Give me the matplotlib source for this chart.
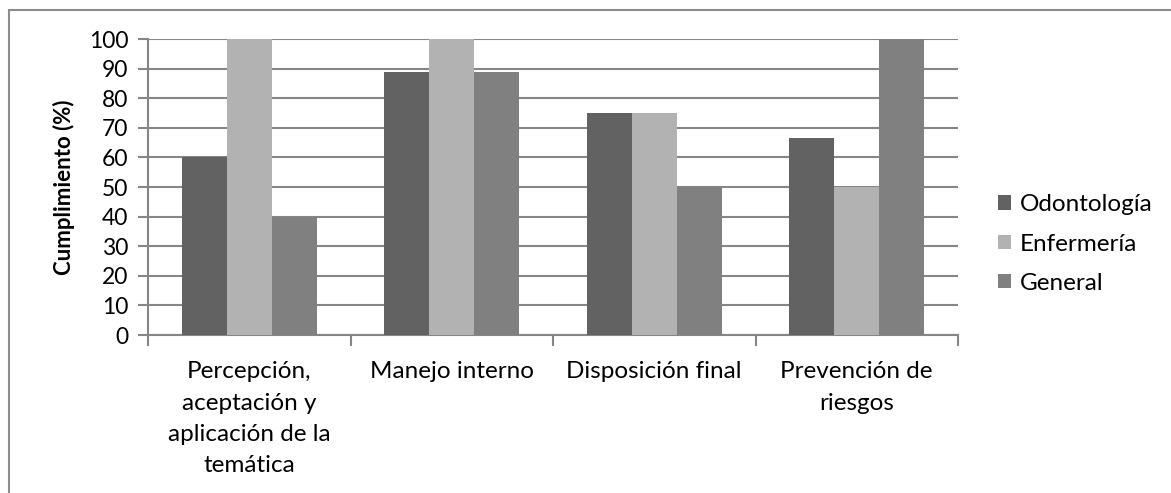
import matplotlib
matplotlib.use("Agg")
import matplotlib.pyplot as plt
import numpy as np
from matplotlib.patches import Rectangle

plt.rcParams['font.family'] = ['Lato', 'DejaVu Sans']

categories = [
    "Percepción,\naceptación y\naplicación de la\ntemática",
    "Manejo interno",
    "Disposición final",
    "Prevención de\nriesgos",
]
series_names = ["Odontología", "Enfermería", "General"]
odontologia = [60.0, 88.9, 75.0, 66.7]
enfermeria = [100.0, 100.0, 75.0, 50.0]
general = [40.0, 88.9, 50.0, 100.0]
series_values = [odontologia, enfermeria, general]
colors = ["#626262", "#b2b2b2", "#808080"]
yticks = list(range(0, 101, 10))

W, H = 1171, 493
fig = plt.figure(figsize=(W / 100, H / 100), dpi=100)

# outer chart frame
fig.patches.append(Rectangle((9 / W, -0.05), 1.2, (H - 10) / H + 0.05,
                             transform=fig.transFigure, fill=False,
                             edgecolor="#8c8c8c", linewidth=1.5))

ax = fig.add_axes([148 / W, 1 - 335 / H, (958 - 148) / W, (335 - 39) / H])

n = len(series_values)
bw = 1 / (n + 1.5)
x = np.arange(len(categories))
for i, (name, vals, c) in enumerate(zip(series_names, series_values, colors)):
    ax.bar(x + (i - (n - 1) / 2) * bw, vals, width=bw, color=c, label=name,
           zorder=3, linewidth=0)

ax.set_xlim(-0.5, len(categories) - 0.5)
ax.set_ylim(0, 100)
ax.set_yticks(yticks)
ax.set_yticklabels([str(t) for t in yticks], fontsize=16.5)
ax.yaxis.grid(True, color="#868686", linewidth=1.5, zorder=0)
ax.set_axisbelow(True)

ax.set_xticks(np.arange(-0.5, len(categories), 1.0))
ax.set_xticklabels([])
ax.set_xticks(x, minor=True)
ax.set_xticklabels(categories, minor=True, fontsize=17.5, linespacing=1.6)
ax.tick_params(axis='x', which='minor', length=0, pad=19)
ax.tick_params(axis='x', which='major', length=8, width=1.5, color="#868686")
ax.tick_params(axis='y', length=7, width=1.5, color="#868686", pad=7)

for s in ["top", "right"]:
    ax.spines[s].set_visible(False)
for s in ["left", "bottom"]:
    ax.spines[s].set_color("#868686")
    ax.spines[s].set_linewidth(1.5)

ax.set_ylabel("Cumplimiento (%)", fontsize=16, fontweight="bold", labelpad=10)

leg = ax.legend(loc="center left", bbox_to_anchor=(988 / W, 1 - 244 / H),
                bbox_transform=fig.transFigure, frameon=False, fontsize=17.5,
                handlelength=0.55, handleheight=0.55, handletextpad=0.35,
                labelspacing=0.75, borderaxespad=0)

fig.savefig("out.png", dpi=100)
